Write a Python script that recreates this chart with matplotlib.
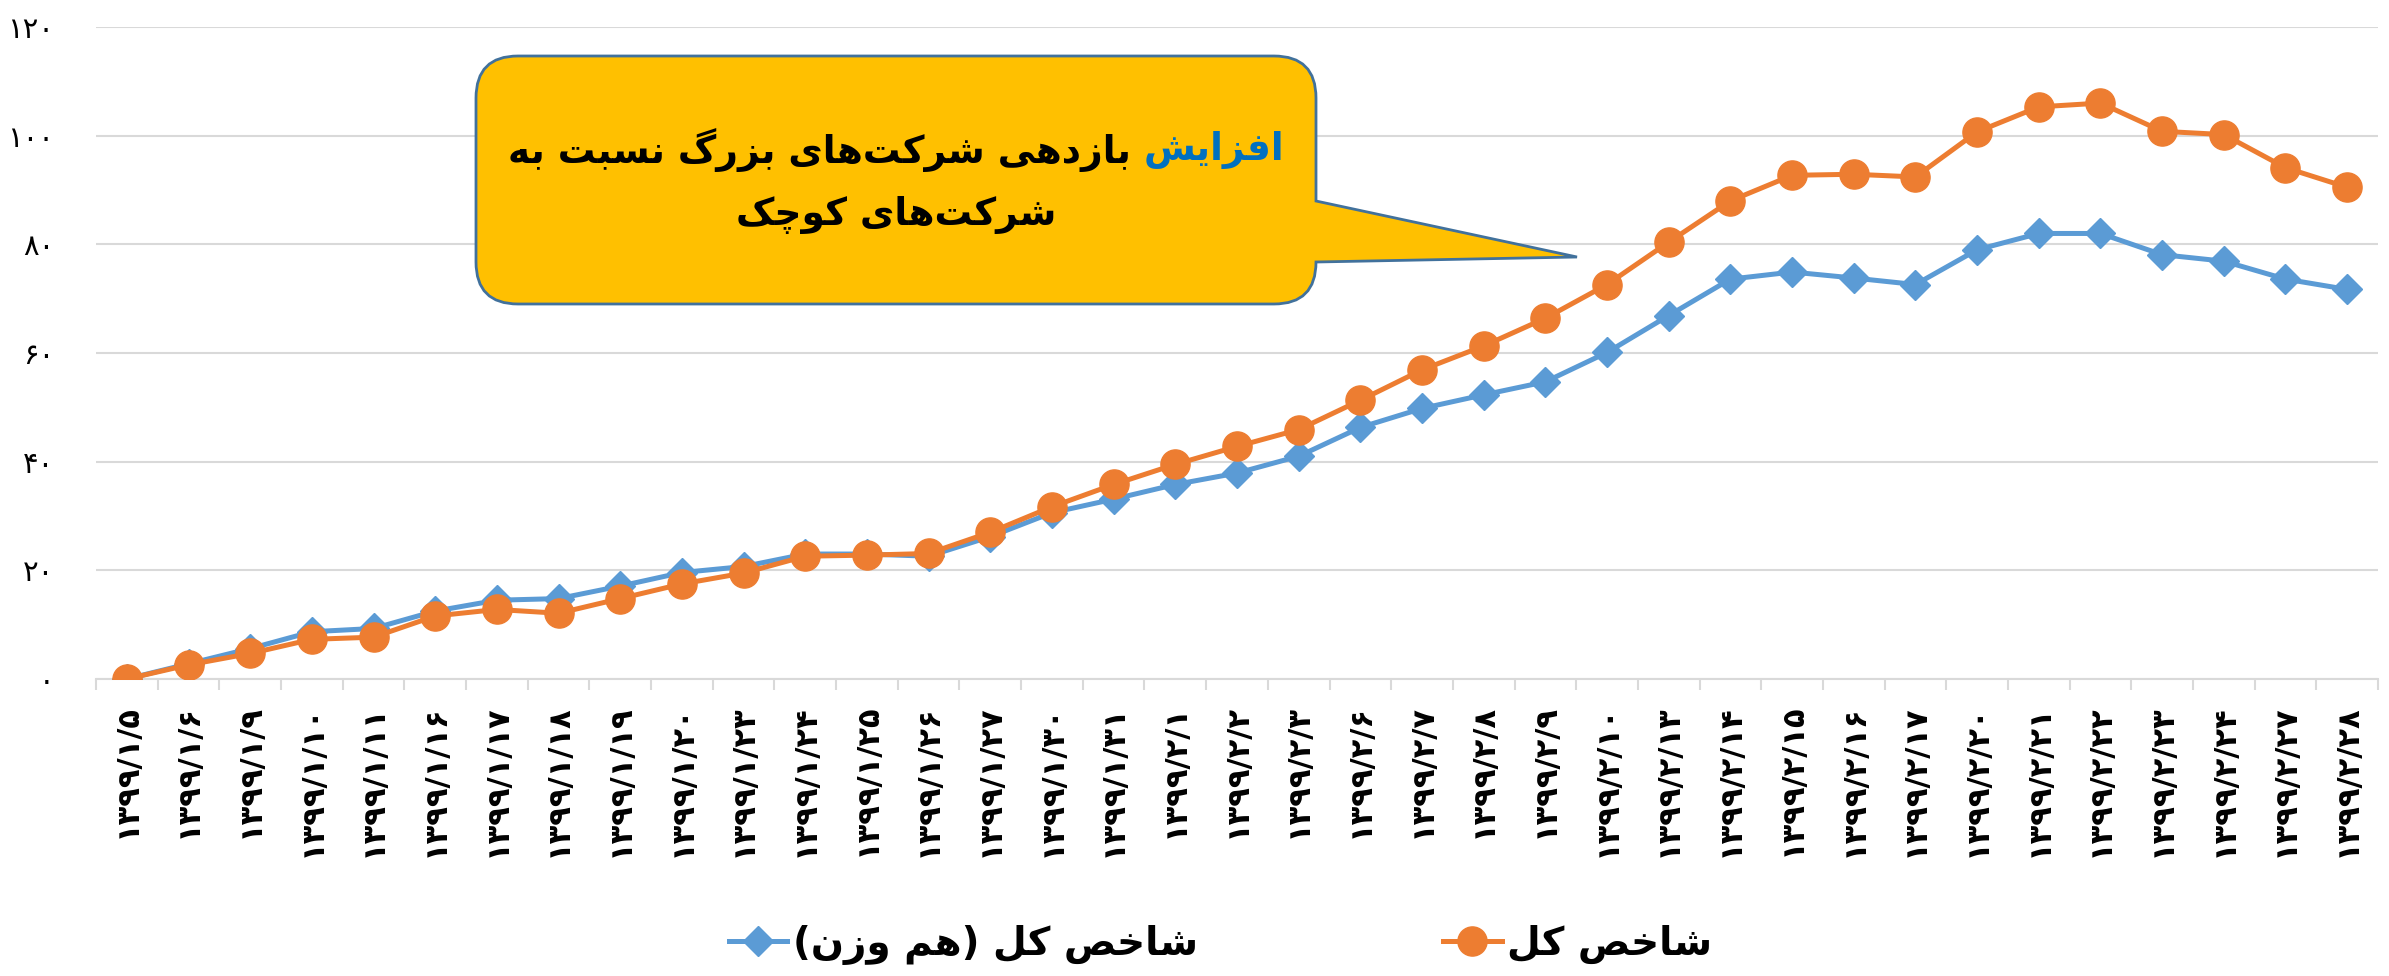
import matplotlib
matplotlib.use('Agg')
import numpy as np
import matplotlib.pyplot as plt
from matplotlib.path import Path
from matplotlib.patches import PathPatch
from matplotlib.transforms import Affine2D

# ---- data ----
dates = ['۱۳۹۹/۱/۵', '۱۳۹۹/۱/۶', '۱۳۹۹/۱/۹', '۱۳۹۹/۱/۱۰', '۱۳۹۹/۱/۱۱', '۱۳۹۹/۱/۱۶',
         '۱۳۹۹/۱/۱۷', '۱۳۹۹/۱/۱۸', '۱۳۹۹/۱/۱۹', '۱۳۹۹/۱/۲۰', '۱۳۹۹/۱/۲۳', '۱۳۹۹/۱/۲۴',
         '۱۳۹۹/۱/۲۵', '۱۳۹۹/۱/۲۶', '۱۳۹۹/۱/۲۷', '۱۳۹۹/۱/۳۰', '۱۳۹۹/۱/۳۱', '۱۳۹۹/۲/۱',
         '۱۳۹۹/۲/۲', '۱۳۹۹/۲/۳', '۱۳۹۹/۲/۶', '۱۳۹۹/۲/۷', '۱۳۹۹/۲/۸', '۱۳۹۹/۲/۹',
         '۱۳۹۹/۲/۱۰', '۱۳۹۹/۲/۱۳', '۱۳۹۹/۲/۱۴', '۱۳۹۹/۲/۱۵', '۱۳۹۹/۲/۱۶', '۱۳۹۹/۲/۱۷',
         '۱۳۹۹/۲/۲۰', '۱۳۹۹/۲/۲۱', '۱۳۹۹/۲/۲۲', '۱۳۹۹/۲/۲۳', '۱۳۹۹/۲/۲۴', '۱۳۹۹/۲/۲۷',
         '۱۳۹۹/۲/۲۸']

total_index = [0, 2.6, 4.7, 7.3, 7.7, 11.6, 12.8, 12.1, 14.8, 17.5, 19.5, 22.6, 22.8,
               23.1, 27.0, 31.7, 35.8, 39.5, 42.8, 45.9, 51.3, 56.9, 61.3, 66.4, 72.6,
               80.4, 88.0, 92.7, 92.9, 92.4, 100.7, 105.3, 106.0, 100.8, 100.2, 94.1, 90.5]

equal_weight = [0, 2.8, 5.6, 8.7, 9.3, 12.5, 14.5, 14.8, 17.1, 19.6, 20.7, 23.0, 23.0,
                22.6, 26.2, 30.6, 33.1, 35.8, 37.9, 41.0, 46.3, 49.8, 52.3, 54.7, 60.1,
                66.9, 73.6, 74.9, 73.8, 72.6, 79.0, 82.0, 82.0, 78.1, 76.9, 73.6, 71.7]

y_ticks = [0, 20, 40, 60, 80, 100, 120]

label_equal = 'شاخص کل (هم وزن)'
label_total = 'شاخص کل'
note_blue = 'افزایش'
note_rest = 'بازدهی شرکت‌های بزرگ نسبت به'
note_line2 = 'شرکت‌های کوچک'

# ---- small persian shaper (matplotlib does no arabic shaping) ----
FORMS = {
    'ا': ('\uFE8D', '\uFE8E', None, None),
    'ب': ('\uFE8F', '\uFE90', '\uFE91', '\uFE92'),
    'ت': ('\uFE95', '\uFE96', '\uFE97', '\uFE98'),
    'خ': ('\uFEA5', '\uFEA6', '\uFEA7', '\uFEA8'),
    'د': ('\uFEA9', '\uFEAA', None, None),
    'ر': ('\uFEAD', '\uFEAE', None, None),
    'ز': ('\uFEAF', '\uFEB0', None, None),
    'س': ('\uFEB1', '\uFEB2', '\uFEB3', '\uFEB4'),
    'ش': ('\uFEB5', '\uFEB6', '\uFEB7', '\uFEB8'),
    'ص': ('\uFEB9', '\uFEBA', '\uFEBB', '\uFEBC'),
    'ف': ('\uFED1', '\uFED2', '\uFED3', '\uFED4'),
    'ل': ('\uFEDD', '\uFEDE', '\uFEDF', '\uFEE0'),
    'م': ('\uFEE1', '\uFEE2', '\uFEE3', '\uFEE4'),
    'ن': ('\uFEE5', '\uFEE6', '\uFEE7', '\uFEE8'),
    'ه': ('\uFEE9', '\uFEEA', '\uFEEB', '\uFEEC'),
    'و': ('\uFEED', '\uFEEE', None, None),
    'چ': ('\uFB7A', '\uFB7B', '\uFB7C', '\uFB7D'),
    'ک': ('\uFB8E', '\uFB8F', '\uFB90', '\uFB91'),
    'گ': ('\uFB92', '\uFB93', '\uFB94', '\uFB95'),
    'ی': ('\uFBFC', '\uFBFD', '\uFBFE', '\uFBFF'),
}
MIRROR = {'(': ')', ')': '('}


def fa(s):
    out = []
    for k, c in enumerate(s):
        if c not in FORMS:
            if c != '\u200c':
                out.append(MIRROR.get(c, c))
            continue
        prev = s[k - 1] if k > 0 else ''
        nxt = s[k + 1] if k + 1 < len(s) else ''
        join_prev = prev in FORMS and FORMS[prev][2] is not None
        join_next = FORMS[c][2] is not None and nxt in FORMS
        iso, fin, ini, med = FORMS[c]
        if join_prev and join_next:
            out.append(med)
        elif join_prev:
            out.append(fin)
        elif join_next:
            out.append(ini)
        else:
            out.append(iso)
    return ''.join(reversed(out))


def fa_digits(n):
    return str(n).translate(str.maketrans('0123456789', '۰۱۲۳۴۵۶۷۸۹'))


plt.rcParams['font.family'] = ['DejaVu Sans']

W, H = 2389, 976
fig = plt.figure(figsize=(W / 100, H / 100), dpi=100)
ax = fig.add_axes([96 / W, 1 - 679 / H, (2378 - 96) / W, (679 - 27) / H])

x = np.arange(len(dates))
ax.plot(x, equal_weight, color='#5B9BD5', lw=3.6, marker='D', ms=15,
        label=fa(label_equal), zorder=3)
ax.plot(x, total_index, color='#ED7D31', lw=3.6, marker='o', ms=21,
        label=fa(label_total), zorder=4)

ax.set_xlim(-0.5, len(dates) - 0.5)
ax.set_ylim(0, 120)
ax.set_yticks(y_ticks)
ax.set_yticklabels([fa_digits(v) for v in y_ticks], fontsize=21)
ax.tick_params(axis='y', length=0, pad=30)
ax.grid(axis='y', color='#D9D9D9', lw=1.5)
ax.set_axisbelow(True)

ax.set_xticks(x)
ax.set_xticklabels(dates, rotation=90, fontsize=22, fontweight='bold')
ax.tick_params(axis='x', length=0, pad=18)
ax.set_xticks(np.arange(len(dates) + 1) - 0.5, minor=True)
ax.tick_params(axis='x', which='minor', length=8, width=1.5, color='#D9D9D9')

for s in ['left', 'right', 'top']:
    ax.spines[s].set_visible(False)
ax.spines['bottom'].set_color('#D9D9D9')
ax.spines['bottom'].set_linewidth(1.5)

leg = fig.legend(loc='center', bbox_to_anchor=(0.511, 0.032), ncol=2, frameon=False,
                 prop={'size': 28, 'weight': 'bold'}, handlelength=1.5,
                 handletextpad=0.15, columnspacing=6.3)

# ---- callout box ----
bx0, bx1, by0, by1, r = 476, 1316, 56, 304, 42
px0, px1, tipx, tipy = 201, 262, 1577, 257
pts = [(bx0 + r, by0), (bx1 - r, by0), (bx1, by0), (bx1, by0 + r), (bx1, px0),
       (tipx, tipy), (bx1, px1), (bx1, by1 - r), (bx1, by1), (bx1 - r, by1),
       (bx0 + r, by1), (bx0, by1), (bx0, by1 - r), (bx0, by0 + r), (bx0, by0),
       (bx0 + r, by0), (bx0 + r, by0)]
codes = [Path.MOVETO, Path.LINETO, Path.CURVE3, Path.CURVE3, Path.LINETO,
         Path.LINETO, Path.LINETO, Path.LINETO, Path.CURVE3, Path.CURVE3,
         Path.LINETO, Path.CURVE3, Path.CURVE3, Path.LINETO, Path.CURVE3,
         Path.CURVE3, Path.CLOSEPOLY]
pts = [(px, H - py) for px, py in pts]
to_fig = Affine2D().scale(1 / W, 1 / H) + fig.transFigure
fig.patches.append(PathPatch(Path(pts, codes), facecolor='#FFC000', edgecolor='#41719C',
                             lw=2, transform=to_fig, zorder=5))

cx = (bx0 + bx1) / 2
tfont = dict(fontsize=27, fontweight='bold', va='center', zorder=6, transform=to_fig)
t_blue = fig.text(0, H - 150, fa(note_blue), color='#0070C0', ha='left', **tfont)
t_rest = fig.text(0, H - 150, fa(note_rest) + ' ', color='black', ha='left', **tfont)
fig.text(cx, H - 215, fa(note_line2), color='black', ha='center', **tfont)

fig.canvas.draw()
rend = fig.canvas.get_renderer()
wb = t_blue.get_window_extent(rend).width
wr = t_rest.get_window_extent(rend).width
left = cx - (wb + wr) / 2
t_rest.set_x(left)
t_blue.set_x(left + wr)

fig.savefig('out.png', dpi=100)
